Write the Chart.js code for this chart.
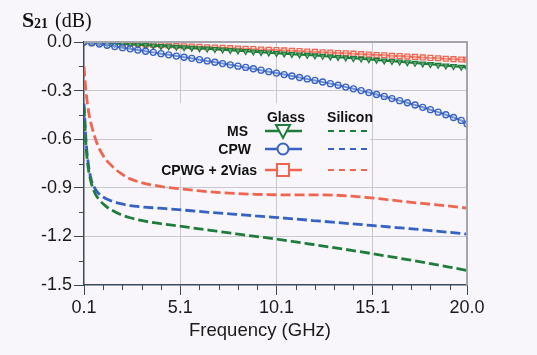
<!DOCTYPE html>
<html><head><meta charset="utf-8">
<script src="https://cdn.jsdelivr.net/npm/chart.js@4.4.1/dist/chart.umd.min.js"></script>
<style>html,body{margin:0;padding:0;background:#f8f6fa;}#wrap{width:537px;height:355px;position:relative;}</style>
</head><body><div id="wrap"><canvas id="c" width="537" height="355"></canvas></div>
<script>
// ---- data ----
const glassFreq = [0.1,0.5,0.9,1.3,1.7,2.1,2.5,2.9,3.3,3.7,4.1,4.5,4.9,5.3,5.7,6.1,6.5,6.9,7.3,7.7,8.1,8.5,8.9,9.3,9.7,10.1,10.5,10.9,11.3,11.7,12.1,12.5,12.9,13.3,13.7,14.1,14.5,14.9,15.3,15.7,16.1,16.5,16.9,17.3,17.7,18.1,18.5,18.9,19.3,19.7,20.0];
const msGlass = [0,-0.002,-0.005,-0.007,-0.010,-0.012,-0.015,-0.017,-0.020,-0.023,-0.026,-0.028,-0.031,-0.034,-0.037,-0.040,-0.042,-0.045,-0.048,-0.051,-0.054,-0.057,-0.060,-0.063,-0.066,-0.069,-0.072,-0.075,-0.078,-0.081,-0.084,-0.087,-0.091,-0.094,-0.097,-0.101,-0.104,-0.108,-0.111,-0.115,-0.119,-0.122,-0.126,-0.130,-0.134,-0.138,-0.142,-0.146,-0.150,-0.154,-0.158];
const cpwGlass = [0,-0.006,-0.013,-0.020,-0.028,-0.035,-0.042,-0.050,-0.057,-0.064,-0.072,-0.079,-0.087,-0.094,-0.101,-0.109,-0.117,-0.125,-0.133,-0.141,-0.149,-0.157,-0.165,-0.174,-0.183,-0.192,-0.201,-0.210,-0.219,-0.228,-0.237,-0.247,-0.257,-0.267,-0.278,-0.289,-0.300,-0.312,-0.324,-0.336,-0.349,-0.362,-0.375,-0.389,-0.403,-0.418,-0.433,-0.449,-0.466,-0.484,-0.505];
const cpwgGlass = [0,-0.002,-0.004,-0.006,-0.008,-0.010,-0.012,-0.014,-0.016,-0.018,-0.020,-0.022,-0.024,-0.026,-0.028,-0.030,-0.032,-0.034,-0.036,-0.038,-0.040,-0.042,-0.044,-0.046,-0.048,-0.050,-0.052,-0.054,-0.056,-0.059,-0.061,-0.063,-0.065,-0.068,-0.070,-0.072,-0.075,-0.077,-0.080,-0.082,-0.085,-0.087,-0.090,-0.092,-0.095,-0.098,-0.100,-0.103,-0.106,-0.108,-0.110];

const siFreq = [0.1,0.2,0.3,0.4,0.5,0.7,0.9,1.2,1.5,2,2.5,3,4,5,6,7,8,9,10,11,12,13,14,15,16,17,18,19,20];
const msSilicon = [-0.40,-0.63,-0.76,-0.83,-0.88,-0.94,-0.975,-1.01,-1.035,-1.065,-1.085,-1.10,-1.12,-1.135,-1.152,-1.168,-1.184,-1.20,-1.215,-1.232,-1.25,-1.268,-1.286,-1.305,-1.325,-1.345,-1.366,-1.388,-1.41];
const cpwSilicon = [-0.38,-0.60,-0.73,-0.81,-0.86,-0.91,-0.94,-0.965,-0.98,-0.998,-1.01,-1.017,-1.026,-1.035,-1.045,-1.055,-1.064,-1.073,-1.082,-1.092,-1.102,-1.112,-1.122,-1.132,-1.142,-1.152,-1.163,-1.174,-1.186];
const cpwgSilicon = [-0.15,-0.30,-0.40,-0.47,-0.52,-0.60,-0.66,-0.72,-0.76,-0.81,-0.845,-0.865,-0.89,-0.905,-0.918,-0.928,-0.935,-0.94,-0.943,-0.944,-0.944,-0.945,-0.952,-0.962,-0.975,-0.988,-1.0,-1.012,-1.025];

const seriesNames = ['MS','CPW','CPWG + 2Vias'];
const xMajorTicks = [0.1,5.1,10.1,15.1,20.0];
const xMinorTicks = [1.1,2.1,3.1,4.1,6.1,7.1,8.1,9.1,11.1,12.1,13.1,14.1,16.1,17.1,18.1,19.1];
const yMajorTicks = [0,-0.3,-0.6,-0.9,-1.2,-1.5];
const yMinorTicks = [-0.15,-0.45,-0.75,-1.05,-1.35];
const xTitle = 'Frequency (GHz)';

// ---- styles ----
const GREEN = '#1f7d3c', BLUE = '#3562c4', RED = '#ef6650';
const GRID = '#c9c8d0', AXIS = '#3b4a58', FRAME = '#a4a4ac', BG = '#f8f6fa';

function pts(xs, ys){ return xs.map((x,i)=>({x:x,y:ys[i]})); }

const glassDS = (label, data, color, style, rot, r) => ({
  label: label + ' Glass', data: pts(glassFreq, data), borderColor: color, backgroundColor: 'rgba(255,255,255,0.35)',
  borderWidth: 2, pointStyle: style, pointRotation: rot, pointRadius: r, pointBorderWidth: 1.3,
  pointBorderColor: color, pointBackgroundColor: 'rgba(255,255,255,0.3)', tension: 0
});
const siDS = (label, data, color) => ({
  label: label + ' Silicon', data: pts(siFreq, data), borderColor: color, borderWidth: 2.8,
  borderDash: [10,4], pointRadius: 0, cubicInterpolationMode: 'monotone'
});

const bgPlugin = {
  id: 'bg',
  beforeDraw(chart){ const c=chart.ctx; c.save(); c.fillStyle=BG; c.fillRect(0,0,chart.width,chart.height); c.restore(); },
  beforeDatasetsDraw(chart){
    // legend panel hides grid behind it
    const c=chart.ctx; c.save(); c.fillStyle=BG; c.fillRect(152,103,218,74); c.restore();
  },
  afterDraw(chart){
    const c=chart.ctx, a=chart.chartArea, xs=chart.scales.x, ys=chart.scales.y;
    c.save();
    // frame top/right
    c.strokeStyle=FRAME; c.lineWidth=2;
    c.beginPath(); c.moveTo(a.left, a.top); c.lineTo(a.right, a.top); c.lineTo(a.right, a.bottom); c.stroke();
    // minor ticks
    c.strokeStyle=AXIS; c.lineWidth=1;
    xMinorTicks.forEach(v=>{const p=Math.round(xs.getPixelForValue(v))+0.5; c.beginPath(); c.moveTo(p,a.bottom); c.lineTo(p,a.bottom+5); c.stroke();});
    yMinorTicks.forEach(v=>{const p=Math.round(ys.getPixelForValue(v))+0.5; c.beginPath(); c.moveTo(a.left-5,p); c.lineTo(a.left,p); c.stroke();});
    // y title S21 (dB)
    c.fillStyle='#111'; c.textBaseline='alphabetic'; c.textAlign='left';
    c.font='bold 22px "Liberation Serif", "Times New Roman", serif'; c.fillText('S',22,27);
    c.font='bold 14px "Liberation Serif", "Times New Roman", serif'; c.fillText('21',34,28);
    c.font='20px "Liberation Serif", "Times New Roman", serif'; c.fillText('(dB)',55,27);
    // x title
    c.font='18.5px "Liberation Sans", Arial, sans-serif'; c.textAlign='center'; c.textBaseline='middle';
    c.fillStyle='#1a1a1a'; c.fillText(xTitle,260,331);
    // legend
    c.font='bold 14px "Liberation Sans", Arial, sans-serif'; c.fillStyle='#111';
    c.fillText('Glass',286,118); c.fillText('Silicon',350,118);
    c.textAlign='right';
    const rows=[131,149,170], rights=[248,251,257], cols=[GREEN,BLUE,RED];
    seriesNames.forEach((n,i)=>c.fillText(n,rights[i],rows[i]+1));
    rows.forEach((y,i)=>{
      c.strokeStyle=cols[i]; c.lineWidth=2.4; c.setLineDash([]);
      c.beginPath(); c.moveTo(265,y); c.lineTo(302,y); c.stroke();
      c.fillStyle=BG; c.lineWidth=2;
      if(i===0){ c.beginPath(); c.moveTo(276,y-6); c.lineTo(290,y-6); c.lineTo(283,y+7); c.closePath(); c.fill(); c.stroke(); }
      if(i===1){ c.beginPath(); c.arc(283,y,5.5,0,Math.PI*2); c.fill(); c.stroke(); }
      if(i===2){ c.beginPath(); c.rect(277,y-6,12,12); c.fill(); c.stroke(); }
      c.setLineDash([6,5]); c.lineWidth=2.2;
      c.beginPath(); c.moveTo(328,y); c.lineTo(372,y); c.stroke();
      c.setLineDash([]);
    });
    c.restore();
  }
};

new Chart(document.getElementById('c'), {
  type: 'line',
  data: { datasets: [
    siDS(seriesNames[0], msSilicon, GREEN),
    siDS(seriesNames[1], cpwSilicon, BLUE),
    siDS(seriesNames[2], cpwgSilicon, RED),
    glassDS(seriesNames[1], cpwGlass, BLUE, 'circle', 0, 3),
    glassDS(seriesNames[0], msGlass, GREEN, 'triangle', 180, 3.2),
    glassDS(seriesNames[2], cpwgGlass, RED, 'rect', 0, 3.4)
  ]},
  options: {
    responsive: false, animation: false, devicePixelRatio: 1,
    layout: { padding: { top: 42, right: 70, left: 0, bottom: 0 } },
    plugins: { legend: { display: false }, tooltip: { enabled: false } },
    scales: {
      x: {
        type: 'linear', min: 0.1, max: 20.0,
        afterBuildTicks: s => { s.ticks = xMajorTicks.map(v=>({value:v})); },
        afterFit: s => { s.height = 70; },
        ticks: { callback: v => v.toFixed(1), font: { family: '"Liberation Sans", Arial, sans-serif', size: 18 }, color: '#1a1a1a', padding: 2, maxRotation: 0, autoSkip: false },
        grid: { color: c => (c.tick && (c.tick.value===0.1 || c.tick.value===20)) ? 'rgba(0,0,0,0)' : GRID, lineWidth: 1, drawTicks: true, tickLength: 10, tickColor: AXIS, tickWidth: 1 },
        border: { display: true, color: AXIS, width: 1.5 }
      },
      y: {
        type: 'linear', min: -1.5, max: 0,
        afterBuildTicks: s => { s.ticks = yMajorTicks.map(v=>({value:v})); },
        afterFit: s => { s.width = 84; },
        ticks: { callback: v => (Math.abs(v)<1e-9 ? '0.0' : v.toFixed(1)), font: { family: '"Liberation Sans", Arial, sans-serif', size: 18 }, color: '#1a1a1a', padding: 2, autoSkip: false },
        grid: { color: c => (c.tick && (Math.abs(c.tick.value)<1e-9 || c.tick.value===-1.5)) ? 'rgba(0,0,0,0)' : GRID, lineWidth: 1, drawTicks: true, tickLength: 10, tickColor: AXIS, tickWidth: 1 },
        border: { display: true, color: AXIS, width: 1.5 }
      }
    }
  },
  plugins: [bgPlugin]
});
</script></body></html>
